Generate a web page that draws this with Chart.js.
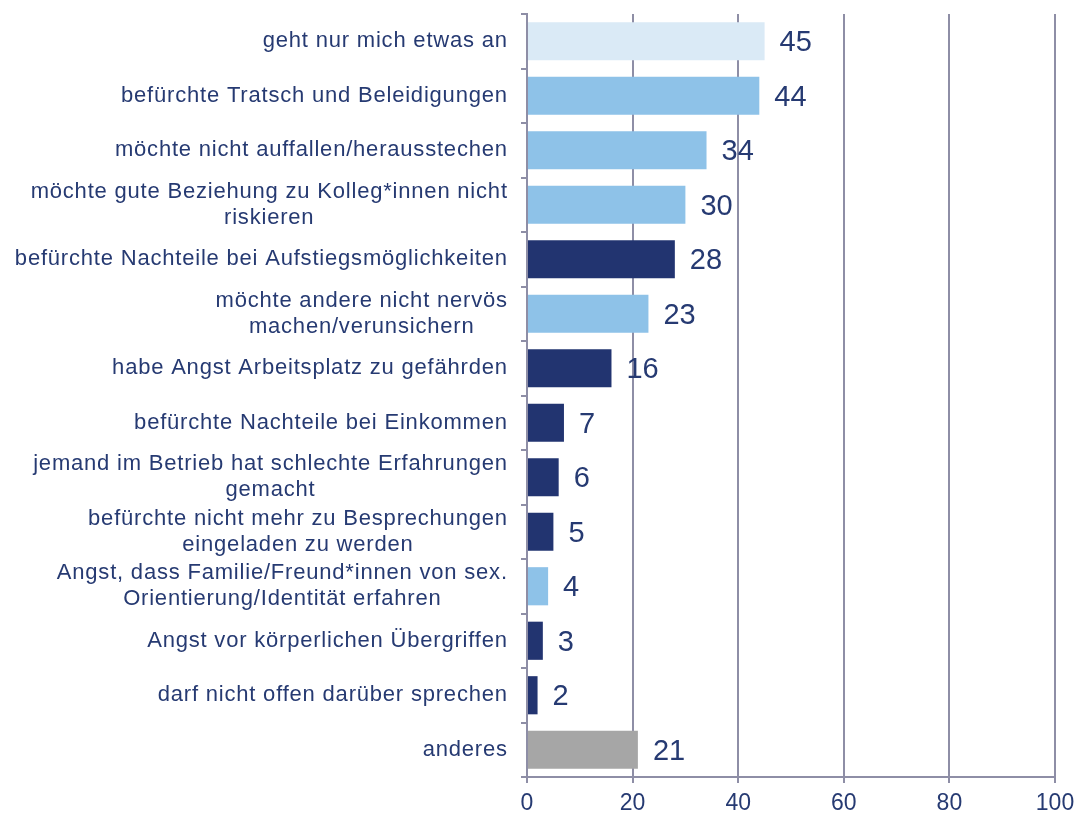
<!DOCTYPE html>
<html>
<head>
<meta charset="utf-8">
<script src="https://cdn.jsdelivr.net/npm/chart.js@4"></script>
<style>
  html, body { margin: 0; padding: 0; background: #fff; }
  #wrap { width: 1078px; height: 816px; }
</style>
</head>
<body>
<div id="wrap"><canvas id="chart" width="1078" height="816"></canvas></div>
<script>
const categories = [
    ['geht nur mich etwas an'],
    ['befürchte Tratsch und Beleidigungen'],
    ['möchte nicht auffallen/herausstechen'],
    ['möchte gute Beziehung zu Kolleg*innen nicht', 'riskieren'],
    ['befürchte Nachteile bei Aufstiegsmöglichkeiten'],
    ['möchte andere nicht nervös', 'machen/verunsichern'],
    ['habe Angst Arbeitsplatz zu gefährden'],
    ['befürchte Nachteile bei Einkommen'],
    ['jemand im Betrieb hat schlechte Erfahrungen', 'gemacht'],
    ['befürchte nicht mehr zu Besprechungen', 'eingeladen zu werden'],
    ['Angst, dass Familie/Freund*innen von sex.', 'Orientierung/Identität erfahren'],
    ['Angst vor körperlichen Übergriffen'],
    ['darf nicht offen darüber sprechen'],
    ['anderes']
];
const values = [45, 44, 34, 30, 28, 23, 16, 7, 6, 5, 4, 3, 2, 21];
const colorGroups = ['light', 'mid', 'mid', 'mid', 'dark', 'mid', 'dark', 'dark', 'dark', 'dark', 'mid', 'dark', 'dark', 'gray'];
const xTicks = [0, 20, 40, 60, 80, 100];

const palette = { light: '#DAEAF6', mid: '#8EC2E8', dark: '#223470', gray: '#A6A6A6' };
const textColor = '#263A72';
const gridColor = '#8E8EA6';
const font = '"Liberation Sans", Arial, sans-serif';
const spacing = 0.8;

// category labels: each block right-aligned, lines centred within the block
const labelPlugin = {
    id: 'labels',
    afterDraw(chart) {
        const c = chart.ctx;
        const y = chart.scales.y;
        c.save();
        c.font = '22px ' + font;
        c.letterSpacing = spacing + 'px';
        c.fillStyle = textColor;
        c.textAlign = 'left';
        c.textBaseline = 'middle';
        const right = y.right - 20;
        const lh = 26;
        categories.forEach((lines, i) => {
            const cy = y.getPixelForValue(i);
            const widths = lines.map(l => c.measureText(l).width - spacing);
            const w = Math.max(...widths);
            lines.forEach((l, k) => {
                const x = right - w / 2 - widths[k] / 2;
                c.fillText(l, x, cy + (k - (lines.length - 1) / 2) * lh);
            });
        });
        // value labels
        c.letterSpacing = '0px';
        c.font = '29px ' + font;
        const meta = chart.getDatasetMeta(0);
        meta.data.forEach((bar, i) => {
            c.fillText(String(values[i]), bar.x + 15, bar.y + 2);
        });
        c.restore();
    }
};

new Chart(document.getElementById('chart'), {
    type: 'bar',
    data: {
        labels: categories,
        datasets: [{
            data: values,
            backgroundColor: colorGroups.map(g => palette[g]),
            barPercentage: 0.7,
            categoryPercentage: 1.0
        }]
    },
    options: {
        indexAxis: 'y',
        responsive: false,
        animation: false,
        layout: { padding: { top: 14, right: 23, left: 0, bottom: 0 } },
        plugins: { legend: { display: false }, tooltip: { enabled: false } },
        scales: {
            x: {
                min: 0,
                max: 100,
                afterBuildTicks(scale) { scale.ticks = xTicks.map(v => ({ value: v })); },
                afterFit(scale) { scale.height = 39; scale.paddingRight = 0; scale.paddingLeft = 0; },
                grid: { color: gridColor, lineWidth: 2, tickLength: 6 },
                border: { color: gridColor, width: 2 },
                ticks: { color: textColor, font: { family: font, size: 23 }, padding: 7 }
            },
            y: {
                afterFit(scale) { scale.width = 527; },
                grid: { drawOnChartArea: false, color: gridColor, lineWidth: 2, tickLength: 6, offset: true },
                border: { color: gridColor, width: 2 },
                ticks: { display: false }
            }
        }
    },
    plugins: [labelPlugin]
});
</script>
</body>
</html>
